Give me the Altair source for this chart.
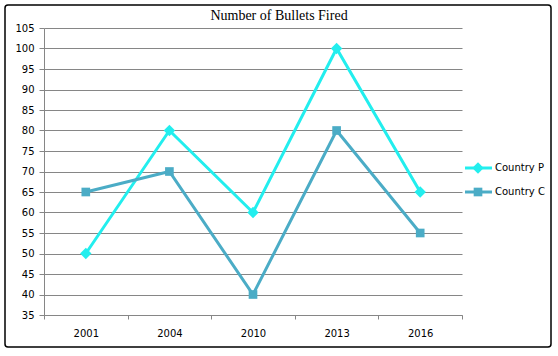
import altair as alt
import pandas as pd

years = ["2001", "2004", "2010", "2013", "2016"]
country_p = [50, 80, 60, 100, 65]
country_c = [65, 70, 40, 80, 55]
series_names = ["Country P", "Country C"]
colors = ["#22EEEE", "#4BACC6"]
shapes = ["diamond", "square"]
sizes = [130, 75]
title_text = "Number of Bullets Fired"
y_ticks = list(range(35, 110, 5))

rows = []
for name, vals in zip(series_names, [country_p, country_c]):
    for yr, v in zip(years, vals):
        rows.append({"year": yr, "value": v, "series": name})
df = pd.DataFrame(rows)

W, H = 418, 287
FONT = "DejaVu Sans"
GRID = "#868686"

x_enc = alt.X(
    "year:N", sort=years,
    scale=alt.Scale(type="band", paddingInner=0, paddingOuter=0),
    axis=alt.Axis(title=None, tickBand="extent", grid=False, labelAngle=0,
                  labelFont=FONT, labelFontSize=10, labelColor="black",
                  domainColor=GRID, tickColor=GRID, tickSize=4, labelPadding=9),
)
y_enc = alt.Y(
    "value:Q",
    scale=alt.Scale(domain=[35, 105], nice=False, zero=False),
    axis=alt.Axis(title=None, values=y_ticks, grid=True, gridColor=GRID,
                  gridWidth=1, labelFont=FONT, labelFontSize=10,
                  labelColor="black", domainColor=GRID, tickColor=GRID,
                  tickSize=5, labelPadding=5),
)
color_enc = alt.Color("series:N", scale=alt.Scale(domain=series_names, range=colors), legend=None)
shape_enc = alt.Shape("series:N", scale=alt.Scale(domain=series_names, range=shapes), legend=None)
size_enc = alt.Size("series:N", scale=alt.Scale(domain=series_names, range=sizes), legend=None)

border = alt.Chart(pd.DataFrame({"a": [0]})).mark_rect(
    filled=False, stroke="black", strokeWidth=1.5, cornerRadius=3
).encode(x=alt.value(-39), x2=alt.value(507), y=alt.value(-23), y2=alt.value(319))

lines = alt.Chart(df).mark_line(strokeWidth=3).encode(x=x_enc, y=y_enc, color=color_enc)
points = alt.Chart(df).mark_point(filled=True, opacity=1).encode(
    x=x_enc, y=y_enc, color=color_enc, shape=shape_enc, size=size_enc
)

title = alt.Chart(pd.DataFrame({"t": [title_text]})).mark_text(
    font="Liberation Serif", fontSize=14, align="center", baseline="alphabetic", color="black"
).encode(x=alt.value(235), y=alt.value(-8), text="t:N")

legend_layers = []
for i, name in enumerate(series_names):
    ly = 140 + 24 * i
    ldf = pd.DataFrame({"series": [name]})
    legend_layers.append(
        alt.Chart(ldf).mark_rule(strokeWidth=3, color=colors[i]).encode(
            x=alt.value(421), x2=alt.value(448), y=alt.value(ly))
    )
    legend_layers.append(
        alt.Chart(ldf).mark_point(filled=True, size=sizes[i], opacity=1, shape=shapes[i], color=colors[i]).encode(
            x=alt.value(434), y=alt.value(ly))
    )
    legend_layers.append(
        alt.Chart(ldf).mark_text(align="left", baseline="middle", font=FONT, fontSize=10, color="black").encode(
            x=alt.value(451), y=alt.value(ly), text="series:N")
    )

chart = alt.layer(border, lines, points, title, *legend_layers).properties(
    width=W, height=H,
    padding={"left": 44, "top": 28, "right": 96, "bottom": 41},
    autosize=alt.AutoSizeParams(type="none"),
    background="white",
).configure_view(stroke=None)

chart.save("out.html", embed_options={"renderer": "svg", "actions": False})
